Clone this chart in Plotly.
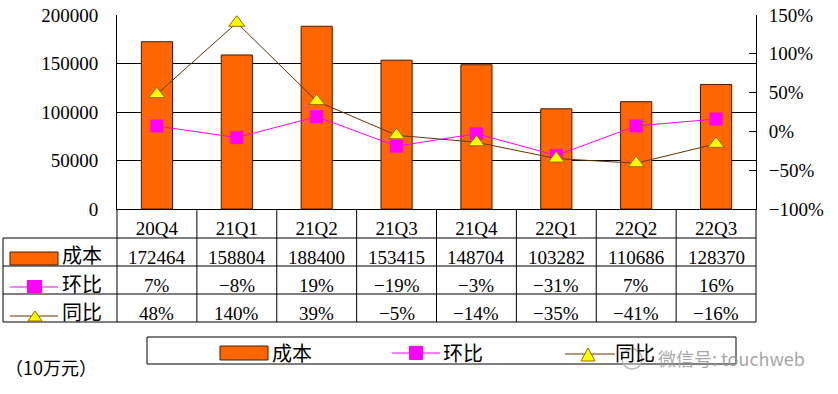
import plotly.graph_objects as go

categories = ["20Q4", "21Q1", "21Q2", "21Q3", "21Q4", "22Q1", "22Q2", "22Q3"]
cost = [172464, 158804, 188400, 153415, 148704, 103282, 110686, 128370]
qoq = [7, -8, 19, -19, -3, -31, 7, 16]
yoy = [48, 140, 39, -5, -14, -35, -41, -16]
row_names = ["成本", "环比", "同比"]
unit_note = "（10万元）"
watermark = "微信号: touchweb"

W, H = 838, 394
X0, X1, Y0, Y1 = 117, 756, 15, 209
SERIF = "Liberation Serif, Noto Sans CJK SC, serif"
CJK = "Noto Sans CJK SC, sans-serif"
ORANGE = "#FF6600"
BAR_EDGE = "#4a1a00"
MAG = "#FF00FF"
BROWN = "#663300"
YEL = "#FFFF00"


def xp(x):
    return (x - X0) / (X1 - X0)


def yp(y):
    return (Y1 - y) / (Y1 - Y0)


def pct(v):
    return ("−" if v < 0 else "") + f"{abs(v)}%"


fig = go.Figure()
fig.add_trace(go.Bar(x=categories, y=cost, width=0.39, name=row_names[0],
                     marker=dict(color=ORANGE, line=dict(color=BAR_EDGE, width=1))))
fig.add_trace(go.Scatter(x=categories, y=qoq, yaxis="y2", mode="lines+markers", name=row_names[1],
                         line=dict(color=MAG, width=1),
                         marker=dict(symbol="square", size=13, color=MAG, line=dict(width=0))))
fig.add_trace(go.Scatter(x=categories, y=yoy, yaxis="y2", mode="lines+markers", name=row_names[2],
                         line=dict(color=BROWN, width=1),
                         marker=dict(symbol="triangle-up", size=14, color=YEL, line=dict(color="#996600", width=1))))

shapes = []
annotations = []

def hline(y, xa, xb, col="black"):
    shapes.append(dict(type="line", xref="paper", yref="paper", x0=xp(xa), x1=xp(xb), y0=yp(y), y1=yp(y),
                       line=dict(color=col, width=1)))

def vline_px(x, ya, yb):
    shapes.append(dict(type="line", xref="paper", yref="paper", x0=xp(x), x1=xp(x), y0=yp(ya), y1=yp(yb),
                       line=dict(color="black", width=1)))

# data table grid
for y in [238, 266, 294, 322]:
    hline(y, 3, 756)
vline_px(3, 238, 322)
vline_px(117, 209, 322)
vline_px(756, 209, 322)
for i in range(1, len(categories)):
    shapes.append(dict(type="line", xref="x", yref="paper", x0=i - 0.5, x1=i - 0.5, y0=yp(209), y1=yp(322),
                       line=dict(color="black", width=1)))

def txt(text, x, y, xanchor="center", size=19, font=SERIF, color="black", xref="paper"):
    annotations.append(dict(text=text, x=x if xref != "paper" else xp(x), y=yp(y), xref=xref, yref="paper",
                            xanchor=xanchor, yanchor="middle", showarrow=False,
                            font=dict(family=font, size=size, color=color)))

# table values
for i, c in enumerate(categories):
    txt(str(cost[i]), c, 257, xref="x")
    txt(pct(qoq[i]), c, 285, xref="x")
    txt(pct(yoy[i]), c, 313, xref="x")

def tri(cx, top, bot, half):
    shapes.append(dict(type="path", xref="paper", yref="paper",
                       path=f"M {xp(cx-half)},{yp(bot)} L {xp(cx)},{yp(top)} L {xp(cx+half)},{yp(bot)} Z",
                       fillcolor=YEL, line=dict(color="#996600", width=1)))

# row headers with keys
shapes.append(dict(type="rect", xref="paper", yref="paper", x0=xp(10), x1=xp(58), y0=yp(252), y1=yp(265),
                   fillcolor=ORANGE, line=dict(color=BAR_EDGE, width=1)))
txt(row_names[0], 60, 254, xanchor="left", size=20, font=CJK)
hline(287, 10, 58, MAG)
shapes.append(dict(type="rect", xref="paper", yref="paper", x0=xp(27), x1=xp(42), y0=yp(280), y1=yp(293),
                   fillcolor=MAG, line=dict(width=0)))
txt(row_names[1], 60, 283, xanchor="left", size=20, font=CJK)
hline(316, 10, 58, BROWN)
tri(35, 311, 321, 7)
txt(row_names[2], 60, 311, xanchor="left", size=20, font=CJK)

# legend box
shapes.append(dict(type="rect", xref="paper", yref="paper", x0=xp(147), x1=xp(736), y0=yp(337), y1=yp(364),
                   line=dict(color="black", width=1), fillcolor="rgba(0,0,0,0)"))
shapes.append(dict(type="rect", xref="paper", yref="paper", x0=xp(220), x1=xp(268), y0=yp(346), y1=yp(360),
                   fillcolor=ORANGE, line=dict(color=BAR_EDGE, width=1)))
txt(row_names[0], 270, 352, xanchor="left", size=20, font=CJK)
hline(353, 392, 440, MAG)
shapes.append(dict(type="rect", xref="paper", yref="paper", x0=xp(409), x1=xp(423), y0=yp(346), y1=yp(360),
                   fillcolor=MAG, line=dict(width=0)))
txt(row_names[1], 441, 352, xanchor="left", size=20, font=CJK)
hline(354, 565, 615, BROWN)
tri(588, 348, 361, 7)
txt(row_names[2], 613, 352, xanchor="left", size=20, font=CJK)

# unit note and watermark
txt(unit_note, 3, 367, xanchor="left", size=18, font=CJK)
shapes.append(dict(type="circle", xref="paper", yref="paper", x0=xp(622), x1=xp(642), y0=yp(349), y1=yp(369),
                   line=dict(color="rgba(170,170,170,0.8)", width=1.5), fillcolor="rgba(255,255,255,0.3)"))
txt(watermark, 656, 358, xanchor="left", size=18, font=CJK, color="rgba(150,150,150,0.85)")

fig.update_layout(
    width=W, height=H,
    margin=dict(l=X0, r=W - X1, t=Y0, b=H - Y1, pad=0, autoexpand=False),
    paper_bgcolor="white", plot_bgcolor="white",
    showlegend=False, bargap=0.6,
    font=dict(family=SERIF, size=19, color="black"),
    xaxis=dict(type="category", range=[-0.5, 7.5], showgrid=False, showline=True, linecolor="black",
               linewidth=1, ticks="", tickfont=dict(family=SERIF, size=19), ticklabelstandoff=2,
               zeroline=False, automargin=False),
    yaxis=dict(range=[0, 200000], dtick=50000, tickformat="d", showgrid=True, gridcolor="black", gridwidth=1,
               showline=True, linecolor="black", linewidth=1, ticks="", zeroline=False, automargin=False,
               tickfont=dict(family=SERIF, size=19), ticklabelstandoff=14),
    yaxis2=dict(range=[-100, 150], dtick=50, ticksuffix="%", overlaying="y", side="right", showgrid=False,
                showline=True, linecolor="black", linewidth=1, ticks="inside", ticklen=7, tickcolor="black",
                zeroline=False, automargin=False, tickfont=dict(family=SERIF, size=19), ticklabelstandoff=8),
    shapes=shapes, annotations=annotations,
)

fig.write_html("out.html", config={"displayModeBar": False},
               post_script="document.body.style.margin='0';document.body.style.padding='0';")
